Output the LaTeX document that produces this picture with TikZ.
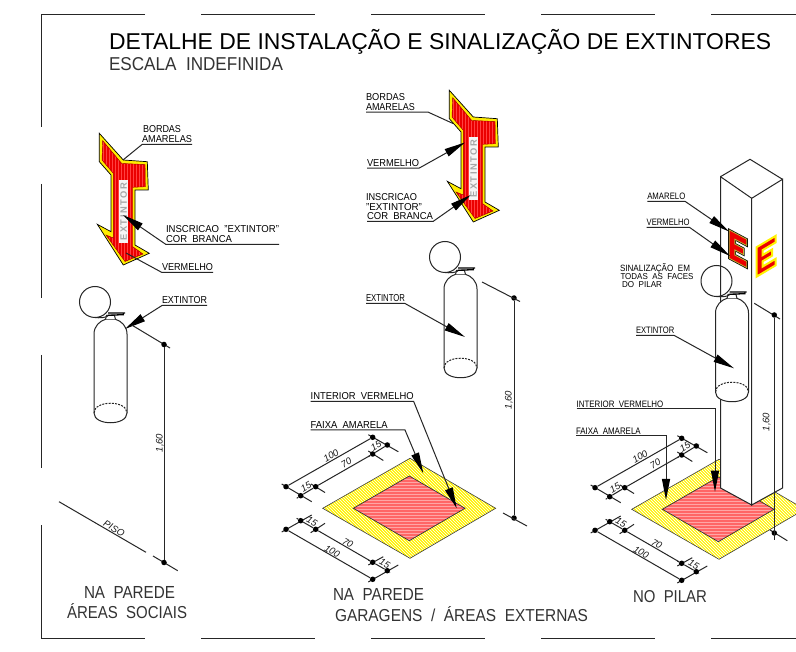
\documentclass[tikz,border=0pt]{standalone}
\usepackage{fontspec}
\setmainfont{Liberation Sans}
\usetikzlibrary{arrows.meta}
\newcommand{\fitlab}[3]{\resizebox{#1pt}{#2pt}{#3}}
\newcommand{\wsp}{\ \ }
\tikzset{
  lab/.style={anchor=base west,inner sep=0pt,outer sep=0pt,font=\fontsize{9}{9}\selectfont,text=black},
  biglab/.style={lab,text=black!80},
  dimtext/.style={inner sep=0pt,font=\fontsize{9.5}{9.5}\itshape\selectfont,text=black!90},
  leader/.style={draw=black!85,line width=1pt},
  wedge/.style={leader,-{Triangle[length=21pt,width=8pt,color=black]}},
  thin line/.style={draw=black!85,line width=1pt},
  dot/.style={circle,fill=black,inner sep=0pt,minimum size=5.5pt},
  border/.style={draw=black!85,line width=1pt}
}
% leader leaving an underlined label from its left or right end
\newcommand{\fromwest}[3][leader]{\draw[#1] ([yshift=-1.5pt]#2.base east) -- ([yshift=-1.5pt]#2.base west) -- #3;}
\newcommand{\fromeast}[3][leader]{\draw[#1] ([yshift=-1.5pt]#2.base west) -- ([yshift=-1.5pt]#2.base east) -- #3;}
\newcommand{\fromvia}[4][wedge]{\draw[#1] ([yshift=-1.5pt]#2.base west) -- #3 -- #4;}
\newcommand{\extkit}{%
  \draw[thin line,fill=white] (94,413) -- (94,334) .. controls (94,326) and (100,321) .. (105,319.5)
     -- (116,319.5) .. controls (121,321) and (127,326) .. (127,334) -- (127,413)
     .. controls (127,426) and (94,426) .. (94,413) -- cycle;
  \draw[thin line,dashed,dash pattern=on 2pt off 1.2pt] (94,413) .. controls (94,400) and (127,400) .. (127,413);
  \draw[thin line,fill=white] (105.5,319.5) -- (106.5,315.5) -- (114.5,315.5) -- (115.5,319.5);
  \draw[draw=black,line width=1.3pt] (108,313) -- (125,313) (108,315.3) -- (124,314.6);
  \draw[thin line] (95,302) circle (15.5);
  \draw[thin line] (95,317.5) .. controls (100,318) and (104,318) .. (108,316);
}
\newcommand{\signkit}{%
  \draw[draw=black,line width=.7pt,fill=yellow!95!orange] (99.3,133.3) -- (123.3,160) -- (147.3,161.7) -- (148.3,190) -- (135,190) -- (135,245) -- (149.3,253.3) -- (123.3,265) -- (97.3,224.3) -- (111,231.7) -- (111,175) -- (99.3,161.7) -- cycle;
  \begin{scope}
    \clip (102.7,140.7) -- (121.7,163.5) -- (145,164.5) -- (145.3,186.7) -- (132.7,187.3) -- (132.7,246.7) -- (143,254) -- (125,261.5) -- (106,235) -- (113.3,238) -- (113.3,173.3) -- (102,160) -- cycle;
    \fill[red!92!black] (95,130) rectangle (150,270);
    \foreach \i in {97,100,...,150} {\draw[red!75!white,line width=.7pt] (\i,130) -- (\i,270);}
  \end{scope}
  \draw[draw=red!60!black,line width=.4pt] (102.7,140.7) -- (121.7,163.5) -- (145,164.5) -- (145.3,186.7) -- (132.7,187.3) -- (132.7,246.7) -- (143,254) -- (125,261.5) -- (106,235) -- (113.3,238) -- (113.3,173.3) -- (102,160) -- cycle;
  \fill[black!4] (119,180) rectangle (128.3,243.3);
  \node[inner sep=0pt,rotate=90,text=black!35,font=\bfseries] (inscr) at (123.6,211.6) {\fitlab{58}{6.5}{E\,X\,T\,I\,N\,T\,O\,R}};
}
\newcommand{\floorkit}{%
  \fill[yellow] (322.7,508.3) -- (410,458.3) -- (495.7,508.3) -- (410,558.3) -- cycle;
  \begin{scope}
    \clip (322.7,508.3) -- (410,458.3) -- (495.7,508.3) -- (410,558.3) -- cycle;
    \foreach \i in {220,223,...,500} {\draw[white,line width=.7pt] (\i,455) -- (\i+110,565);}
  \end{scope}
  \draw[draw=black!75,line width=.6pt] (322.7,508.3) -- (410,458.3) -- (495.7,508.3) -- (410,558.3) -- cycle;
  \fill[red!60!white] (353.3,508.3) -- (409.3,476) -- (465,508.3) -- (409.3,540.7) -- cycle;
  \begin{scope}
    \clip (353.3,508.3) -- (409.3,476) -- (465,508.3) -- (409.3,540.7) -- cycle;
    \foreach \i in {476,479,...,542} {\draw[white!65!red,line width=.8pt] (350,\i) -- (470,\i);}
  \end{scope}
  \draw[draw=black!80,line width=.7pt] (353.3,508.3) -- (409.3,476) -- (465,508.3) -- (409.3,540.7) -- cycle;
  % extension lines
  \draw[thin line] (281.7,484) -- (311.7,501.7);
  \draw[thin line] (311,484) -- (325,492.5);
  \draw[thin line] (368.3,434.7) -- (398.3,451.7);
  \draw[thin line] (368.3,451) -- (383.3,460.5);
  \draw[thin line] (281.7,532) -- (311.7,515);
  \draw[thin line] (310.7,532.7) -- (325,523.3);
  \draw[thin line] (368.3,565) -- (383.3,556.7);
  \draw[thin line] (368.3,582) -- (398.3,565);
  % measured points
  \node[dot] (ta) at (286,486.7) {};
  \node[dot] (tb) at (372.7,437.3) {};
  \node[dot] (tc) at (300.7,495.7) {};
  \node[dot] (td) at (315.7,486.7) {};
  \node[dot] (te) at (372.7,454) {};
  \node[dot] (tf) at (387.3,445) {};
  \node[dot] (ba) at (286,529.3) {};
  \node[dot] (bb) at (372.7,579.3) {};
  \node[dot] (bc) at (300.7,520.7) {};
  \node[dot] (bd) at (315.7,529.3) {};
  \node[dot] (be) at (372.7,562.3) {};
  \node[dot] (bf) at (387.3,570.7) {};
  \draw[thin line] (ta) -- (tb) (td) -- (te) (tc) -- (td) (te) -- (tf);
  \draw[thin line] (ba) -- (bb) (bd) -- (be) (bc) -- (bd) (be) -- (bf);
  \draw[thin line] (tc) -- (296.7,498.3) (td) -- (318,485.3) (te) -- (368.3,456.7) (tf) -- (390,443.3);
  \draw[thin line] (bc) -- (296.7,518.3) (be) -- (368.3,560) (bf) -- (390,572.7);
  \node[dimtext,rotate=30] (t100) at (331,455.5) {100};
  \node[dimtext,rotate=30] (t70) at (346.2,462.8) {70};
  \node[dimtext,rotate=30] (t15a) at (306,486.7) {15};
  \node[dimtext,rotate=30] (t15b) at (376,446) {15};
  \node[dimtext,rotate=-30] (b15a) at (312,521.5) {15};
  \node[dimtext,rotate=-30] (b70) at (347.8,543) {70};
  \node[dimtext,rotate=-30] (b100) at (332.2,551.2) {100};
  \node[dimtext,rotate=-30] (b15b) at (384.8,563.7) {15};
}
\newcommand{\eshape}{(0,0) -- (1,0) -- (1,.22) -- (.32,.22) -- (.32,.39) -- (.82,.39) -- (.82,.6) -- (.32,.6) -- (.32,.78) -- (1,.78) -- (1,1) -- (0,1) -- cycle}
\begin{document}
\begin{tikzpicture}[x=1pt,y=-1pt]
\useasboundingbox (0,0) rectangle (796,652);
\fill[white] (0,0) rectangle (796,652);
\clip (0,0) rectangle (796,652);
% sheet border
\draw[border] (145,14.5) -- (41,14.5) -- (41,127);
\draw[border] (41,184) -- (41,298) (41,355) -- (41,468);
\draw[border] (41,525) -- (41,638.5) -- (145,638.5);
\draw[border] (201,14.5) -- (315,14.5) (371,14.5) -- (485,14.5) (541,14.5) -- (655,14.5) (711,14.5) -- (796,14.5);
\draw[border] (201,638.5) -- (315,638.5) (371,638.5) -- (485,638.5) (541,638.5) -- (655,638.5) (711,638.5) -- (796,638.5);
% titles
\node[lab] (title) at (109,49.5) {\resizebox{662pt}{!}{DETALHE DE INSTALAÇÃO E SINALIZAÇÃO DE EXTINTORES}};
\node[biglab] (scale) at (109,70.7) {\fitlab{174}{13}{ESCALA\wsp INDEFINIDA}};
% === left column
\signkit
\begin{scope}[shift={(0,0)}]\extkit\end{scope}
\node[lab] (a1) at (143,133) {\fitlab{38}{7}{BORDAS}};
\node[lab] (a2) at (142,143) {\fitlab{50}{7}{AMARELAS}};
\coordinate (a2t) at (123,160);
\fromwest{a2}{(a2t)}
\node[lab] (a3) at (166,233) {\fitlab{113}{7}{INSCRICAO\wsp "EXTINTOR"}};
\node[lab] (a4) at (166,243) {\fitlab{66}{7}{COR\wsp BRANCA}};
\coordinate (a4e) at (279,244.5);
\coordinate (a4t) at (123,215);
\draw[wedge] (a4e) -- ([yshift=-1.5pt]a4.base west) -- (a4t);
\node[lab] (a5) at (162,271) {\fitlab{51}{7}{VERMELHO}};
\coordinate (a5t) at (126,253);
\fromwest{a5}{(a5t)}
\node[lab] (a6) at (162,304) {\fitlab{45}{7}{EXTINTOR}};
\coordinate (a6t) at (125,329);
\fromwest[wedge]{a6}{(a6t)}
% floor line and height
\coordinate (p1) at (59,501.7); \coordinate (p2) at (146,552.3);
\draw[thin line] (p1) -- (p2);
\draw[thin line] (153,556) -- (177.7,570.7);
\draw[thin line] (131.7,325) -- (170,348);
\node[dot] (h1) at (164,344.5) {};
\node[dot] (h2) at (164,562.5) {};
\draw[thin line] (h1) -- (h2);
\node[dimtext,rotate=90] (h1t) at (160,443) {1,60};
\node[dimtext,rotate=-30] (piso) at (114,528.5) {PISO};
\node[biglab] (n1) at (84,598) {\fitlab{91}{12}{NA\wsp PAREDE}};
\node[biglab] (n2) at (67,618) {\fitlab{120}{15}{ÁREAS\wsp SOCIAIS}};
% === middle column
\begin{scope}[shift={(350,-43)}]\signkit\end{scope}
\begin{scope}[shift={(350,-45)}]\extkit\end{scope}
\node[lab] (c1) at (366,100.7) {\fitlab{39}{7}{BORDAS}};
\node[lab] (c2) at (366,110.7) {\fitlab{49}{7}{AMARELAS}};
\coordinate (c2b) at (428.3,112.2); \coordinate (c2t) at (453,123.5);
\draw[leader] ([yshift=-1.5pt]c2.base west) -- (c2b) -- (c2t);
\node[lab] (c3) at (367,166.7) {\fitlab{52}{7}{VERMELHO}};
\coordinate (c3t) at (465,142.5);
\fromeast[wedge]{c3}{(c3t)}
\node[lab] (c4) at (366,200.7) {\fitlab{51}{7}{INSCRICAO}};
\node[lab] (c5) at (366,210.7) {\fitlab{56}{7}{"EXTINTOR"}};
\node[lab] (c6) at (367,220) {\fitlab{66}{7}{COR\wsp BRANCA}};
\coordinate (c6t) at (470.7,195);
\fromeast[wedge]{c6}{(c6t)}
\node[lab] (c7) at (366,302) {\fitlab{39}{7}{EXTINTOR}};
\coordinate (c7t) at (465,337);
\fromeast[wedge]{c7}{(c7t)}
\begin{scope}[name prefix=m-]\floorkit\end{scope}
\node[dot] (m1) at (514,298) {};
\node[dot] (m2) at (514,518) {};
\draw[thin line] (482,282) -- (520,301.5) (503,513) -- (527,526);
\draw[thin line] (m1) -- (m2);
\node[dimtext,rotate=90] (m1t) at (509,400) {1,60};
\node[lab] (c8) at (310.7,400) {\fitlab{103}{7}{INTERIOR\wsp VERMELHO}};
\coordinate (c8t) at (456.7,508.3);
\fromeast[wedge]{c8}{(c8t)}
\node[lab] (c9) at (310.7,428.5) {\fitlab{77}{7}{FAIXA\wsp AMARELA}};
\coordinate (c9b) at (405,430); \coordinate (c9t) at (423.3,473.3);
\fromvia{c9}{(c9b)}{(c9t)}
\node[biglab] (n3) at (333,600) {\fitlab{91}{12}{NA\wsp PAREDE}};
\node[biglab] (n4) at (335,621) {\fitlab{253}{15}{GARAGENS\wsp /\wsp ÁREAS\wsp EXTERNAS}};
% === right column
\begin{scope}[shift={(309,1)},name prefix=r-]\floorkit\end{scope}
\draw[thin line,fill=white] (720.5,176.7) -- (751.7,198.3) -- (751.7,505) -- (720.5,488) -- cycle;
\draw[thin line,fill=white] (782.5,179.3) -- (751.7,198.3) -- (751.7,505) -- (782.5,488) -- cycle;
\draw[thin line] (720.5,176.7) -- (750,159.3) -- (782.5,179.3);
\begin{scope}[cm={17.4,-9.3,0,28.3,(729.3pt,-230pt)}]
  \draw[black,line width=2.2pt] \eshape;
  \draw[yellow!70!black,line width=.8pt,fill=red!92!black] \eshape;
\end{scope}
\begin{scope}[cm={19,11.3,0,29.4,(756.5pt,-247.3pt)}]
  \draw[yellow,line width=2pt,fill=red!92!black] \eshape;
\end{scope}
\begin{scope}[shift={(621.5,-21)}]\extkit\end{scope}
\draw[thin line] (754.3,303.3) -- (780,319) (770,530) -- (787.3,540.7);
\node[dot] (r1) at (774.3,315) {};
\node[dot] (r2) at (774.3,533) {};
\coordinate (r3) at (774.3,540);
\draw[thin line] (r1) -- (r3);
\node[dimtext,rotate=90] (r1t) at (766.7,422) {1,60};
\node[lab] (e1) at (647.3,200) {\fitlab{38}{6.5}{AMARELO}};
\coordinate (e1t) at (729,231.5);
\fromeast[wedge]{e1}{(e1t)}
\node[lab] (e2) at (646.7,226) {\fitlab{43}{6.5}{VERMELHO}};
\coordinate (e2t) at (730,256);
\fromeast[wedge]{e2}{(e2t)}
\node[lab] (e3) at (620,272) {\fitlab{70}{8}{SINALIZAÇÃO\wsp EM}};
\node[lab] (e4) at (620.5,280) {\fitlab{73}{6}{TODAS\wsp AS\wsp FACES}};
\node[lab] (e5) at (622,288) {\fitlab{40}{6}{DO\wsp PILAR}};
\node[lab] (e6) at (636,334) {\fitlab{38.3}{6.5}{EXTINTOR}};
\coordinate (e6t) at (734,368.3);
\fromeast[wedge]{e6}{(e6t)}
\node[lab] (e7) at (576.7,407.5) {\fitlab{86.6}{6.5}{INTERIOR\wsp VERMELHO}};
\coordinate (e7b) at (715,409); \coordinate (e7t) at (715,491.7);
\fromvia{e7}{(e7b)}{(e7t)}
\node[lab] (e8) at (576,434.3) {\fitlab{64.7}{6.5}{FAIXA\wsp AMARELA}};
\coordinate (e8b) at (666,435.8); \coordinate (e8t) at (666,500);
\fromvia{e8}{(e8b)}{(e8t)}
\node[biglab] (n5) at (633,602) {\fitlab{74}{12}{NO\wsp PILAR}};
\end{tikzpicture}
\end{document}
